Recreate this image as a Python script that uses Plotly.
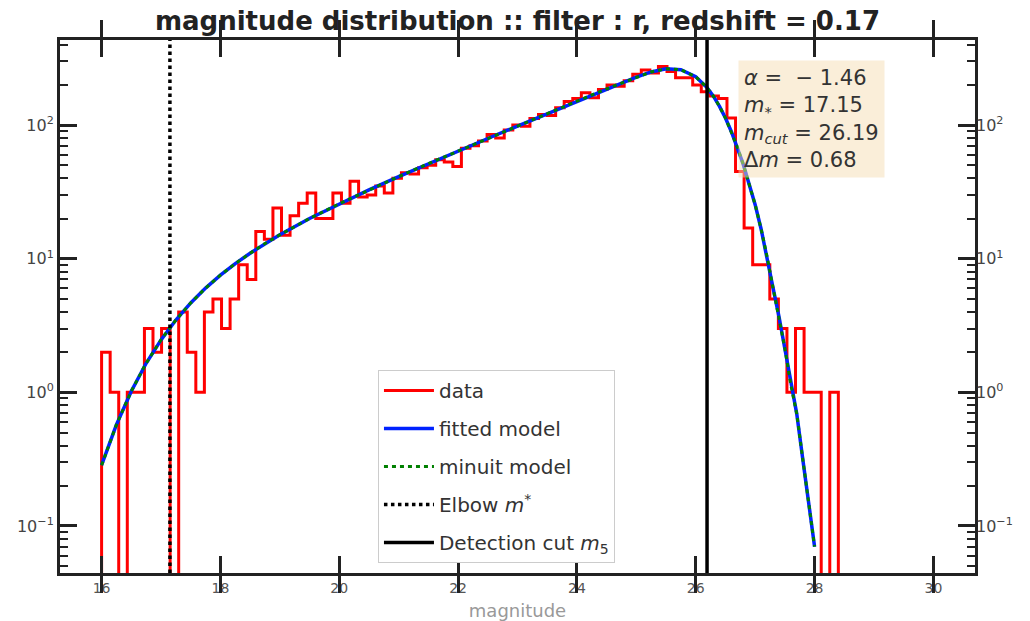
import numpy as np
import plotly.graph_objects as go

# ---------------- data ----------------
bin_lo, bin_hi, n_bins = 16.0, 28.4, 86
counts = [2, 1, 0, 1, 1, 3, 2, 3, 0, 4,
          2, 1, 4, 5, 3, 5, 9, 7, 16, 14,
          24, 15, 21, 26, 31, 20, 20, 31, 26, 38,
          29, 30, 35, 31, 40, 44, 43, 48, 50, 55,
          53, 49, 67, 70, 76, 85, 80, 92, 100, 98,
          112, 120, 118, 135, 150, 158, 175, 160, 185, 200,
          195, 215, 240, 259, 245, 275, 252, 226, 226, 200,
          178, 165, 158, 113, 45, 17, 9, 9, 5, 3,
          1, 3, 1, 1, 0, 1]

model_m = [16.0, 16.25, 16.5, 16.75, 17.0, 17.25, 17.5, 17.75, 18.0, 18.25,
           18.5, 18.75, 19.0, 19.5, 20.0, 20.5, 21.0, 21.5, 22.0, 22.5,
           23.0, 23.5, 24.0, 24.5, 25.0, 25.25, 25.5, 25.75, 26.0, 26.19,
           26.3, 26.4, 26.5, 26.6, 26.7, 26.8, 26.9, 27.0, 27.1, 27.2,
           27.3, 27.4, 27.5, 27.6, 27.7, 27.8, 27.9, 28.0]
model_n = [0.285, 0.573, 1.02, 1.65, 2.47, 3.48, 4.67, 6.03, 7.53, 9.2,
           11.0, 13.0, 15.1, 20.0, 25.8, 32.8, 41.2, 51.5, 64.0, 79.4,
           98.4, 122, 151, 187, 229, 250, 264, 260, 230, 191,
           164, 138, 113, 89.3, 68.5, 50.8, 36.0, 25.4, 16.7, 10.4,
           6.08, 3.71, 2.13, 1.14, 0.69, 0.32, 0.15, 0.07]

m_star = 17.15
m_cut = 26.19
alpha = -1.46
delta_m = 0.68

x_ticks = [16, 18, 20, 22, 24, 26, 28, 30]
y_ticks = [0.1, 1, 10, 100]
y_tick_text = ["10<sup>−1</sup>", "10<sup>0</sup>", "10<sup>1</sup>", "10<sup>2</sup>"]
x_range = [15.3, 30.7]
y_log_range = [-1.352, 2.637]

# ---------------- build ----------------
edges = np.linspace(bin_lo, bin_hi, n_bins + 1)
floor_val = 10 ** (y_log_range[0] - 1.0)
cnt = [c if c > 0 else floor_val for c in counts]
sx, sy = [edges[0]], [floor_val]
for i, c in enumerate(cnt):
    sx += [edges[i], edges[i + 1]]
    sy += [c, c]
sx.append(edges[-1])
sy.append(floor_val)

y_lo = 10 ** y_log_range[0]
y_hi = 10 ** y_log_range[1]
minor_vals = [k * 10.0 ** d for d in range(-2, 3) for k in range(2, 10)]

fig = go.Figure()
fig.add_trace(go.Scatter(x=sx, y=sy, mode="lines", name="data",
                         line=dict(color="#ff0000", width=3), legendgroup="a"))
fig.add_trace(go.Scatter(x=model_m, y=model_n, mode="lines", name="fitted model",
                         line=dict(color="#0022ff", width=3.5), legendgroup="b"))
fig.add_trace(go.Scatter(x=model_m, y=model_n, mode="lines", name="minuit model",
                         line=dict(color="#008000", width=3, dash="4px,4px"), legendgroup="c"))
fig.add_trace(go.Scatter(x=[m_star, m_star], y=[y_lo, y_hi], mode="lines",
                         name="Elbow <i>m</i><sup>*</sup>",
                         line=dict(color="black", width=3.5, dash="dot"), legendgroup="d"))
fig.add_trace(go.Scatter(x=[m_cut, m_cut], y=[y_lo, y_hi], mode="lines",
                         name="Detection cut <i>m</i><sub>5</sub>",
                         line=dict(color="black", width=3.5), legendgroup="e"))
fig.add_trace(go.Scatter(x=[None], y=[None], yaxis="y2", showlegend=False,
                         hoverinfo="skip"))

nb = "\u00a0"
ann_text = (f"<i>α</i>{nb}={nb}{nb}−{nb}1.46<br><i>m</i><sub>*</sub>{nb}={nb}17.15<br>"
            f"<i>m</i><sub><i>cut</i></sub>{nb}={nb}26.19<br>Δ<i>m</i>{nb}={nb}0.68")

tickfont = dict(family="DejaVu Sans", size=16, color="#444444")
fig.update_layout(
    width=1030, height=621,
    margin=dict(l=60, r=55, t=40, b=48, autoexpand=False),
    paper_bgcolor="white", plot_bgcolor="white",
    title=dict(text="<b>magnitude distribution :: filter : r, redshift = 0.17</b>",
               x=0.5024, xanchor="center", y=0.967, yanchor="middle",
               font=dict(family="DejaVu Sans", size=26, color="#222222")),
    showlegend=True,
    legend=dict(x=0.3475, y=0.381, xanchor="left", yanchor="top",
                bgcolor="white", bordercolor="#cccccc", borderwidth=1,
                font=dict(family="DejaVu Sans", size=20, color="#333333"),
                tracegroupgap=9, itemwidth=50),
    xaxis=dict(range=x_range, tickvals=x_ticks, ticks="inside", ticklen=17, tickwidth=3,
               tickcolor="#222222", showline=True, linecolor="#222222", linewidth=3,
               mirror="allticks", showgrid=False, zeroline=False, automargin=False,
               tickfont=dict(family="DejaVu Sans", size=14, color="#555555"),
               title=dict(text="magnitude",
                          font=dict(family="DejaVu Sans", size=18, color="#999999"),
                          standoff=10)),
    yaxis=dict(type="log", range=y_log_range, tickmode="array", tickvals=y_ticks,
               ticktext=y_tick_text, ticks="inside", ticklen=17, tickwidth=3,
               tickcolor="#222222", showline=True, linecolor="#222222", linewidth=3,
               mirror="allticks", showgrid=False, zeroline=False, automargin=False,
               tickfont=tickfont,
               minor=dict(ticks="inside", ticklen=8, tickwidth=2, tickcolor="#222222",
                          tickmode="array", tickvals=minor_vals, showgrid=False)),
    yaxis2=dict(type="log", range=y_log_range, tickmode="array", tickvals=y_ticks,
                ticktext=y_tick_text, overlaying="y", side="right", automargin=False,
                ticks="", showline=False, showgrid=False, zeroline=False,
                tickfont=tickfont),
    annotations=[dict(x=0.741, y=0.9625, xref="paper", yref="paper", xanchor="left",
                      yanchor="top", text=ann_text, showarrow=False, align="left",
                      bgcolor="rgba(245,222,179,0.5)", borderpad=5,
                      font=dict(family="DejaVu Sans", size=21, color="#333333"))],
)

fig.write_html("out.html")
